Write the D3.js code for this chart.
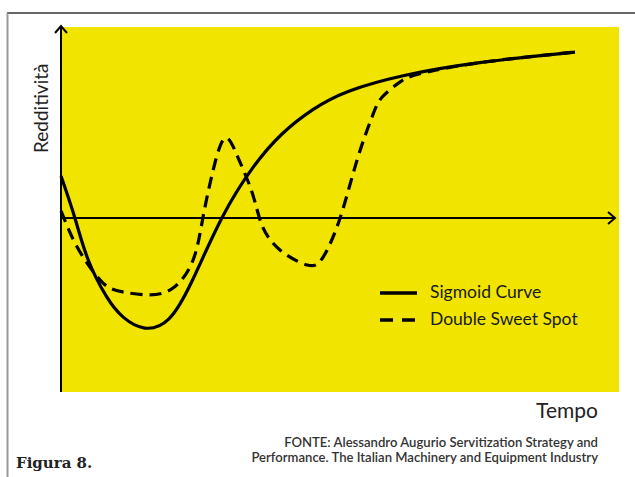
<!DOCTYPE html>
<html>
<head>
<meta charset="utf-8">
<script src="https://cdn.jsdelivr.net/npm/d3@7"></script>
<style>
  body { margin: 0; background: #fff; }
  svg { display: block; }
</style>
</head>
<body>
<div id="chart"></div>
<script>
// values, arbitrary units (time 0..100, redditività)
const sigmoidT = [0, 2.7, 5.3, 8.9, 12.1, 16.3, 21, 25.5, 31.3, 37.4, 43, 49, 56, 67, 81.5, 100];
const sigmoidV = [10, 0, -10, -18.8, -23.6, -26.2, -24, -15, 0, 12.1, 20, 25.8, 30.2, 34, 37, 39.5];

const sweetT = [0, 1.8, 4.3, 8.2, 12, 17.3, 22, 25.7, 27.6, 29.6, 31.9, 34.4, 37.2, 39.1, 42.6, 47.9, 51, 54.3, 57.6, 60.5, 62.5, 66, 70, 81.5, 100];
const sweetV = [1.7, -3.6, -9.3, -15.5, -17.6, -18.3, -16.5, -10, 0, 11.4, 19, 14.5, 6, -1.7, -7.6, -11.2, -9.3, 0, 13.8, 24, 28.8, 32.4, 34.4, 37, 39.5];

const seriesNames = ['Sigmoid Curve', 'Double Sweet Spot'];
const sourceLines = [
  'FONTE: Alessandro Augurio Servitization Strategy and',
  'Performance. The Italian Machinery and Equipment Industry'
];

const W = 635, H = 477;
const svg = d3.select('#chart').append('svg')
  .attr('width', W).attr('height', H);

// page frame
svg.append('line').attr('x1', 7).attr('x2', W).attr('y1', 13).attr('y2', 13)
  .attr('stroke', '#333').attr('stroke-width', 1.5);
svg.append('line').attr('x1', 7.5).attr('x2', 7.5).attr('y1', 13).attr('y2', H)
  .attr('stroke', '#999').attr('stroke-width', 2);

// yellow plot panel
svg.append('rect').attr('x', 61).attr('y', 27).attr('width', 558).attr('height', 365)
  .attr('fill', '#f1e500');

const x = d3.scaleLinear().domain([0, 100]).range([61, 575]);
const y = d3.scaleLinear().domain([-40, 40]).range([386, 50]);

// axes
const axisG = svg.append('g').attr('stroke', '#000').attr('fill', 'none');
axisG.append('line').attr('x1', 61).attr('x2', 61).attr('y1', 26).attr('y2', 392)
  .attr('stroke-width', 2);
axisG.append('path').attr('d', 'M55,33 L61,26 L67,33').attr('stroke-width', 2);
axisG.append('line').attr('x1', 61).attr('x2', 615).attr('y1', y(0)).attr('y2', y(0))
  .attr('stroke-width', 2);
axisG.append('path')
  .attr('d', `M608,${y(0) - 6} L615,${y(0)} L608,${y(0) + 6}`)
  .attr('stroke-width', 2);

const line = d3.line()
  .x(d => x(d[0])).y(d => y(d[1]))
  .curve(d3.curveNatural);

svg.append('path')
  .datum(sweetT.map((t, i) => [t, sweetV[i]]))
  .attr('d', line)
  .attr('fill', 'none').attr('stroke', '#000').attr('stroke-width', 3.2)
  .attr('stroke-dasharray', '12,7');

svg.append('path')
  .datum(sigmoidT.map((t, i) => [t, sigmoidV[i]]))
  .attr('d', line)
  .attr('fill', 'none').attr('stroke', '#000').attr('stroke-width', 3.2);

// legend
const leg = svg.append('g');
seriesNames.forEach((name, i) => {
  const ly = 293 + i * 27;
  leg.append('line').attr('x1', 380).attr('x2', 417).attr('y1', ly).attr('y2', ly)
    .attr('stroke', '#000').attr('stroke-width', 3.5)
    .attr('stroke-dasharray', i === 1 ? '13,9' : null);
  leg.append('text').attr('x', 430).attr('y', ly + 5)
    .attr('font-family', 'Lato, sans-serif').attr('font-size', 17.5)
    .attr('fill', '#1a1a1a').text(name);
});

// axis titles
svg.append('text')
  .attr('transform', 'translate(48,153) rotate(-90)')
  .attr('font-family', 'Lato, sans-serif').attr('font-size', 19)
  .attr('fill', '#222').text('Redditività');

svg.append('text').attr('x', 598).attr('y', 418).attr('text-anchor', 'end')
  .attr('font-family', 'Lato, sans-serif').attr('font-size', 21)
  .attr('fill', '#222').text('Tempo');

// source note
sourceLines.forEach((s, i) => {
  svg.append('text').attr('x', 598).attr('y', 447 + i * 15).attr('text-anchor', 'end')
    .attr('font-family', 'Lato, sans-serif').attr('font-size', 13.1).attr('font-weight', 600)
    .attr('fill', '#333').text(s);
});

svg.append('text').attr('x', 16).attr('y', 468)
  .attr('font-family', '"DejaVu Serif", serif').attr('font-size', 15).attr('font-weight', 'bold')
  .attr('fill', '#222').text('Figura 8.');
</script>
</body>
</html>
